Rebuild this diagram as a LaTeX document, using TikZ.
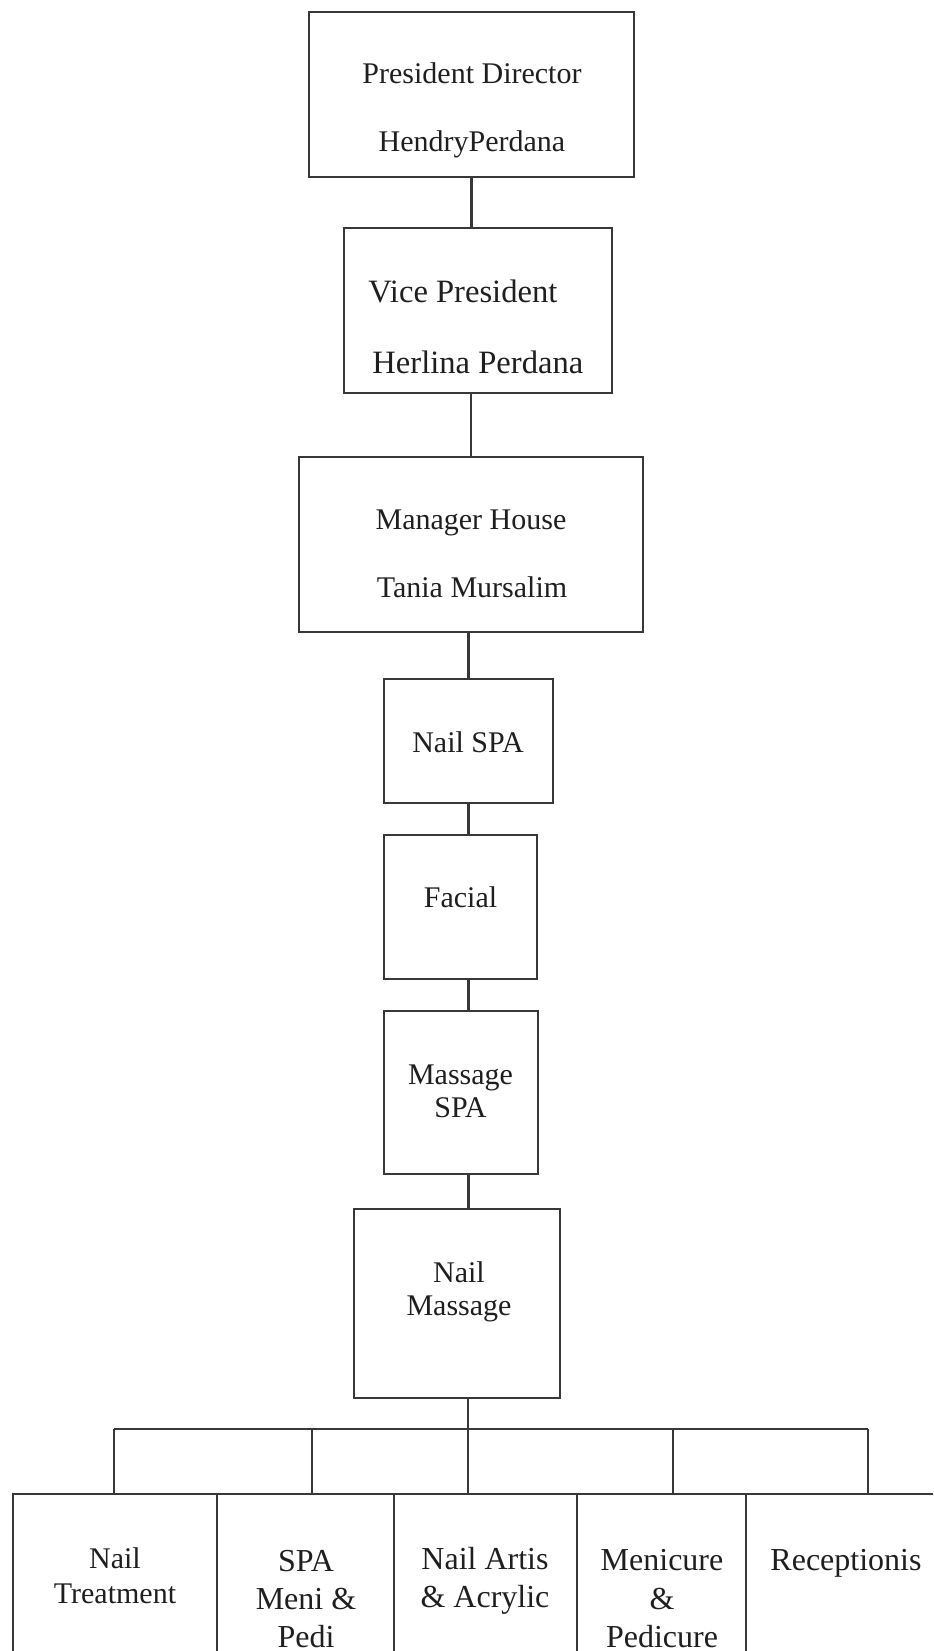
\documentclass[tikz,border=0pt]{standalone}
\usepackage{fontspec}
\setmainfont{Liberation Serif}
\begin{document}
\begin{tikzpicture}[x=0.5pt,y=-0.5pt,
  box/.style={draw=black!78, line width=1.2pt, inner sep=0pt, outer sep=0pt, rectangle},
  lbl/.style={anchor=base, inner sep=0pt, text=black!88, font=\fontsize{15}{18}\selectfont},
  lblv/.style={lbl, anchor=base west, font=\fontsize{16.3}{19}\selectfont},
  lblb/.style={lbl, font=\fontsize{16}{19}\selectfont},
  conn/.style={draw=black!78, line width=1.2pt}]
\useasboundingbox (0,0) rectangle (933,1651);
\clip (0,0) rectangle (933,1651);
% boxes
\node[box, minimum width=162.5pt, minimum height=82.5pt] (pd) at (471.5,94.5) {};
\node[box, minimum width=134pt, minimum height=82.5pt] (vp) at (478,310.5) {};
\node[box, minimum width=172pt, minimum height=87.5pt] (mh) at (471,544.5) {};
\node[box, minimum width=84.5pt, minimum height=62pt] (ns) at (468.5,741) {};
\node[box, minimum width=76.5pt, minimum height=72pt] (fa) at (460.5,907) {};
\node[box, minimum width=77pt, minimum height=81.5pt] (ma) at (461,1092.5) {};
\node[box, minimum width=103pt, minimum height=94.5pt] (nm) at (457,1303.5) {};
\node[box, minimum width=102pt, minimum height=103pt] (bt1) at (115,1597) {};
\node[box, minimum width=88.5pt, minimum height=103pt] (bt2) at (305.5,1597) {};
\node[box, minimum width=91.5pt, minimum height=103pt] (bt3) at (485.5,1597) {};
\node[box, minimum width=84.5pt, minimum height=103pt] (bt4) at (661.5,1597) {};
\node[box, minimum width=102pt, minimum height=103pt] (bt5) at (848,1597) {};
% labels
\node[lbl] (pd1) at (472,83) {President Director};
\node[lbl] (pd2) at (472,151) {HendryPerdana};
\node[lblv] (vp1) at (368,302) {Vice President};
\node[lblv] (vp2) at (372,373) {Herlina Perdana};
\node[lbl] (mh1) at (471,529) {Manager House};
\node[lbl] (mh2) at (472,597) {Tania Mursalim};
\node[lbl] (ns1) at (468,752) {Nail SPA};
\node[lbl] (fa1) at (460.5,907) {Facial};
\node[lbl] (ma1) at (460.5,1084) {Massage};
\node[lbl] (ma2) at (460.5,1117) {SPA};
\node[lbl] (nm1) at (459,1282) {Nail};
\node[lbl] (nm2) at (459,1315) {Massage};
\node[lbl] (t1a) at (115,1568) {Nail};
\node[lbl] (t1b) at (115,1603) {Treatment};
\node[lblb] (t2a) at (306,1571) {SPA};
\node[lblb] (t2b) at (306,1609) {Meni \&};
\node[lblb] (t2c) at (306,1647) {Pedi};
\node[lblb] (t3a) at (485,1569) {Nail Artis};
\node[lblb] (t3b) at (485,1607) {\& Acrylic};
\node[lblb] (t4a) at (662,1570) {Menicure};
\node[lblb] (t4b) at (662,1609) {\&};
\node[lblb] (t4c) at (662,1647) {Pedicure};
\node[lblb] (t5a) at (846,1570) {Receptionis};
% connectors
\draw[conn] (pd.south) -- (pd.south |- vp.north);
\draw[conn] (mh.north) -- (mh.north |- vp.south);
\draw[conn] (ns.north) -- (ns.north |- mh.south);
\draw[conn] (ns.south) -- (ns.south |- fa.north);
\draw[conn] (fa.south -| ns.south) -- (ma.north -| ns.south);
\draw[conn] (ma.south -| ns.south) -- (nm.north -| ns.south);
\coordinate (b1) at (114,1429);
\coordinate (b2) at (312,1429);
\coordinate (b3) at (468,1429);
\coordinate (b4) at (673,1429);
\coordinate (b5) at (868,1429);
\draw[conn] (nm.south -| b3) -- (b3);
\draw[conn] (b1) -- (b5);
\draw[conn] (b1) -- (b1 |- bt1.north);
\draw[conn] (b2) -- (b2 |- bt2.north);
\draw[conn] (b3) -- (b3 |- bt3.north);
\draw[conn] (b4) -- (b4 |- bt4.north);
\draw[conn] (b5) -- (b5 |- bt5.north);
\end{tikzpicture}
\end{document}
